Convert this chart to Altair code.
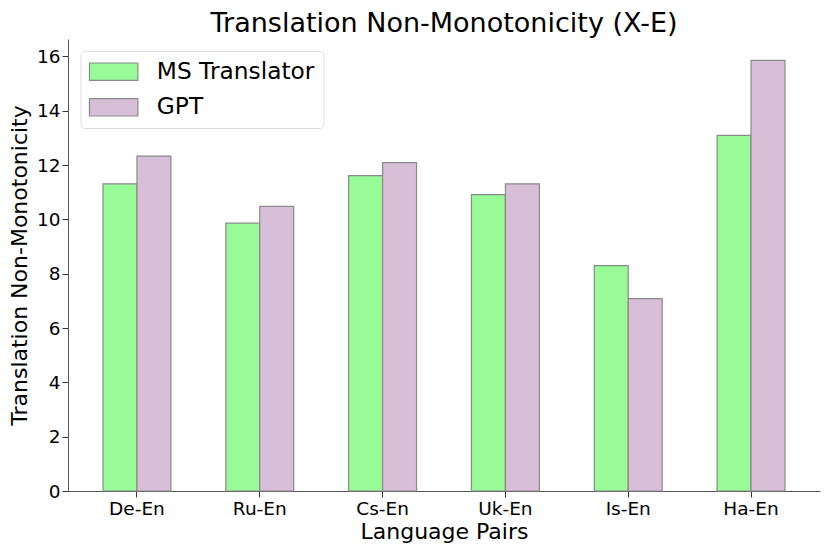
import altair as alt
import pandas as pd

pairs = ["De-En", "Ru-En", "Cs-En", "Uk-En", "Is-En", "Ha-En"]
ms_translator = [11.31, 9.86, 11.61, 10.91, 8.30, 13.09]
gpt = [12.33, 10.48, 12.09, 11.31, 7.08, 15.85]
models = ["MS Translator", "GPT"]
colors = ["#98FB98", "#D8BFD8"]
y_ticks = [0, 2, 4, 6, 8, 10, 12, 14, 16]

rows = []
for p, a, b in zip(pairs, ms_translator, gpt):
    rows.append({"pair": p, "model": models[0], "value": a})
    rows.append({"pair": p, "model": models[1], "value": b})
df = pd.DataFrame(rows)

FONT = "DejaVu Sans"

chart = alt.Chart(df).mark_bar(stroke="#8a8a8a", strokeWidth=1.2, opacity=1).encode(
    x=alt.X("pair:N", sort=pairs,
            scale=alt.Scale(paddingInner=0.447, paddingOuter=0.285),
            axis=alt.Axis(title="Language Pairs", labelAngle=0, labelFontSize=18.5,
                          titleFontSize=22, labelPadding=2, titlePadding=4,
                          tickSize=6, tickColor="#333", domainColor="#555",
                          labelColor="black", titleColor="black", titleFontWeight="normal",
                          labelFont=FONT, titleFont=FONT)),
    xOffset=alt.XOffset("model:N", sort=models),
    y=alt.Y("value:Q", scale=alt.Scale(domain=[0, 16.64], nice=False),
            axis=alt.Axis(title="Translation Non-Monotonicity", values=y_ticks, grid=False,
                          labelFontSize=18.5, titleFontSize=22, labelPadding=2,
                          titlePadding=5, tickSize=6, tickColor="#333", domainColor="#555",
                          labelColor="black", titleColor="black", titleFontWeight="normal",
                          labelFont=FONT, titleFont=FONT)),
    color=alt.Color("model:N", sort=models,
                    scale=alt.Scale(domain=models, range=colors),
                    legend=alt.Legend(title=None, orient="none", legendX=12.5, legendY=12,
                                      symbolType="M-1.35,-1H4.245V1H-1.35Z", symbolSize=299,
                                      symbolStrokeColor="#8a8a8a", symbolStrokeWidth=1.2,
                                      symbolOpacity=1,
                                      labelFontSize=23.3, labelFont=FONT, labelColor="black",
                                      labelOffset=44, rowPadding=11.7, padding=9,
                                      strokeColor="#dddddd", cornerRadius=4,
                                      fillColor="white")),
).properties(
    width=752,
    height=452,
    title=alt.TitleParams("Translation Non-Monotonicity (X-E)", fontSize=27, font=FONT,
                          fontWeight="normal", color="black", offset=1),
    autosize=alt.AutoSizeParams(type="none"),
    padding={"left": 60, "top": 31, "right": 2, "bottom": 56},
).configure_view(stroke=None)

chart.save("out.html", embed_options={"renderer": "svg", "actions": False})
